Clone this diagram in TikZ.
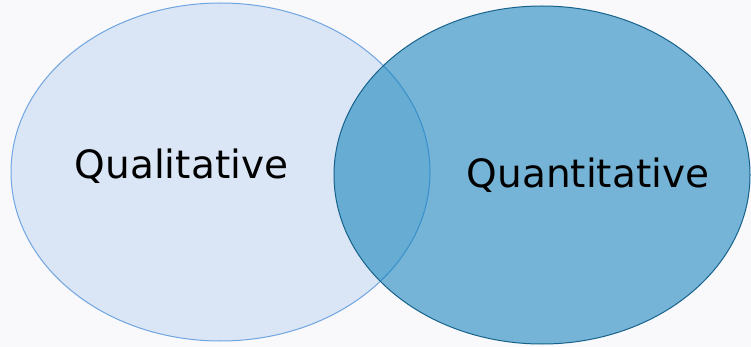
\documentclass[tikz,border=0pt]{standalone}
\usepackage{fontspec}
\setmainfont{DejaVu Sans}
\usetikzlibrary{shapes.geometric}

\definecolor{pagebg}{RGB}{249,249,251}
\definecolor{qualfill}{RGB}{218,230,245}
\definecolor{qualline}{RGB}{111,165,224}
\definecolor{quantfill}{RGB}{14,127,186}
\definecolor{quantline}{RGB}{22,98,140}

\begin{document}
\begin{tikzpicture}[
		x=1pt, y=-1pt,
		every node/.style={font=\fontsize{39}{46}\selectfont},
		% Venn circles
		venn/.style={ellipse, inner sep=0pt, line width=1pt},
		% Labels inside the circles
		label text/.style={text=black, inner sep=0pt}
		]
		
		% === BACKGROUND ===
		\fill[pagebg] (0,0) rectangle (751,347);
		\useasboundingbox (0,0) rectangle (751,347);
		
		% === CIRCLES ===
		
		% Qualitative on the left
		\node[venn, draw=qualline, fill=qualfill, minimum width=419pt, minimum height=338pt] (qual) at (220.5,172) {};
		
		% Quantitative on the right, see-through
		\node[venn, draw=quantline, fill=quantfill, fill opacity=0.56, minimum width=416pt, minimum height=338pt] (quant) at (542,175) {};
		
		% === LABELS ===
		\node[label text] (quallabel) at (181.5,166) {Qualitative};
		\node[label text] (quantlabel) at (588,175) {Quantitative};
		
	\end{tikzpicture}
\end{document}
